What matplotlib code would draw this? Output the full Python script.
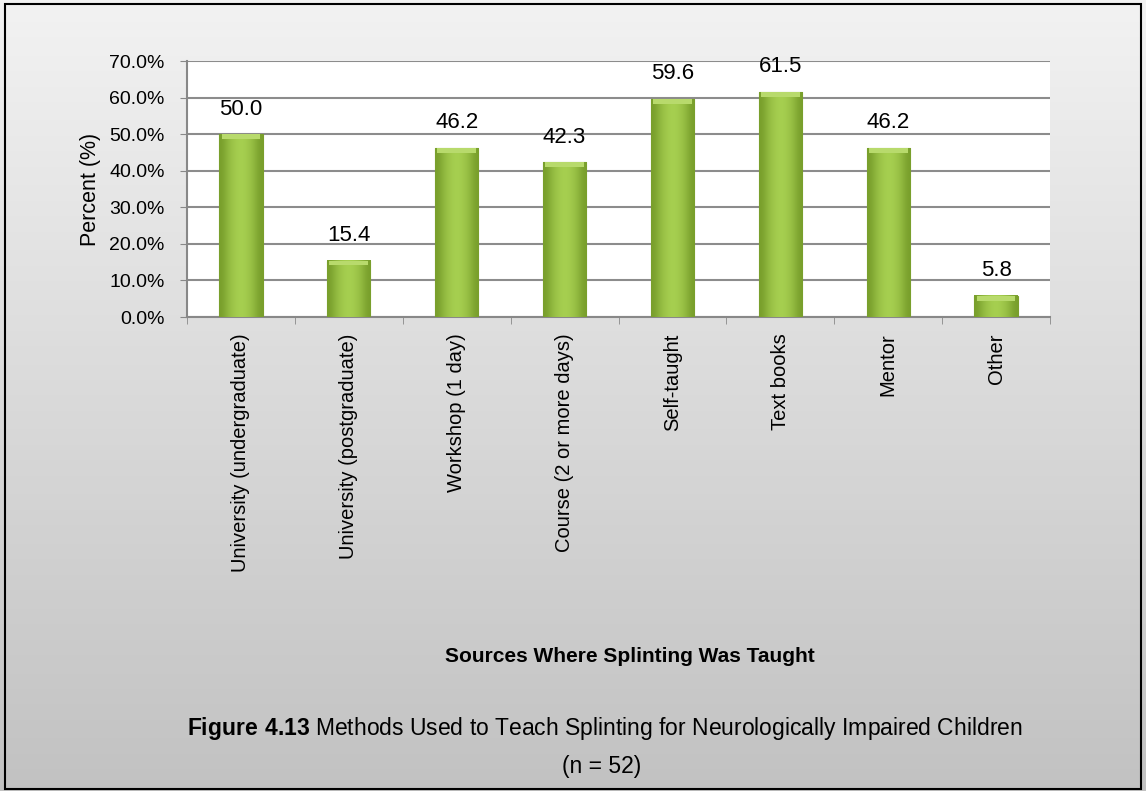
import matplotlib
matplotlib.use("Agg")
import matplotlib.pyplot as plt
import numpy as np
from matplotlib.patches import Rectangle

categories = ["University (undergraduate)", "University (postgraduate)", "Workshop (1 day)",
              "Course (2 or more days)", "Self-taught", "Text books", "Mentor", "Other"]
values = [50.0, 15.4, 46.2, 42.3, 59.6, 61.5, 46.2, 5.8]
yticks = [0, 10, 20, 30, 40, 50, 60, 70]

FONT = ['Liberation Sans', 'DejaVu Sans']
plt.rcParams['font.family'] = FONT
plt.rcParams['mathtext.fontset'] = 'custom'
plt.rcParams['mathtext.rm'] = 'Liberation Sans'
plt.rcParams['mathtext.bf'] = 'Liberation Sans:bold'

fig = plt.figure(figsize=(11.46, 7.91), dpi=100)

# background gradient
bg = fig.add_axes([0, 0, 1, 1], zorder=-10)
grad = np.linspace(0.95, 0.76, 256).reshape(-1, 1)
bg.imshow(np.dstack([grad, grad, grad]), aspect='auto', extent=[0, 1, 0, 1], origin='upper')
bg.set_xlim(0, 1); bg.set_ylim(0, 1)
bg.axis('off')
bg.add_patch(Rectangle((0.004, 0.003), 0.992, 0.992, fill=False, edgecolor='black', lw=1.5,
                       transform=bg.transAxes))

W, H = 1146, 791
left, right, top, bottom = 187, 1050, 61, 317
ax = fig.add_axes([left / W, 1 - bottom / H, (right - left) / W, (bottom - top) / H])
ax.set_facecolor('white')

x = np.arange(len(categories))
bars = ax.bar(x, values, width=0.4, color='#8fb63a', edgecolor='#7a9e2c', linewidth=0.8, zorder=3)
# highlight gradient on bars
for b in bars:
    bx, by, bw, bh = b.get_x(), b.get_y(), b.get_width(), b.get_height()
    g = np.array([0.0, 0.55, 0.85, 1.0, 0.85, 0.55, 0.0])
    cols = np.zeros((1, len(g), 4))
    c0 = np.array([0.47, 0.62, 0.17]); c1 = np.array([0.66, 0.82, 0.32])
    for i, t in enumerate(g):
        cols[0, i, :3] = c0 + (c1 - c0) * t
        cols[0, i, 3] = 1
    ax.imshow(cols, extent=[bx, bx + bw, by, by + bh], aspect='auto', zorder=4,
              interpolation='bicubic')
    ax.add_patch(Rectangle((bx + 0.02, by + bh - 1.3), bw - 0.04, 1.3, color='#b8da6c', zorder=5, lw=0))

for xi, v in zip(x, values):
    ax.text(xi, v + 4, f"{v:.1f}", ha='center', va='bottom', fontsize=16, color='black')

ax.set_xlim(-0.5, len(categories) - 0.5)
ax.set_ylim(0, 70)
ax.set_yticks(yticks)
ax.set_yticklabels([f"{t:.1f}%" for t in yticks], fontsize=14)
ax.set_xticks(x)
ax.set_xticklabels(categories, rotation=90, fontsize=14.5, va='top')
ax.set_xticks(np.arange(-0.5, len(categories), 1), minor=True)
ax.tick_params(axis='x', which='major', length=0, pad=12)
ax.tick_params(axis='x', which='minor', length=5, color='#888888')
ax.tick_params(axis='y', length=5, color='#888888', pad=11)
ax.grid(axis='y', color='#8c8c8c', lw=1.5, zorder=1)
for s in ['top', 'right']:
    ax.spines[s].set_visible(False)
ax.spines['left'].set_color('#888888')
ax.spines['bottom'].set_color('#888888')
ax.spines['left'].set_linewidth(1.5)
ax.spines['bottom'].set_linewidth(1.5)
ax.set_ylabel("Percent (%)", fontsize=15.5, labelpad=6)

fig.text(630 / W, 1 - 657 / H, "Sources Where Splinting Was Taught", ha='center', va='center',
         fontsize=15, fontweight='bold')
fig.text(605 / W, 1 - 728 / H,
         r"$\mathbf{Figure\ 4.13}$" + " Methods Used to Teach Splinting for Neurologically Impaired Children",
         ha='center', va='center', fontsize=16.5)
fig.text(602 / W, 1 - 767 / H, "(n = 52)", ha='center', va='center', fontsize=16.5)

fig.savefig("out.png", dpi=100)
